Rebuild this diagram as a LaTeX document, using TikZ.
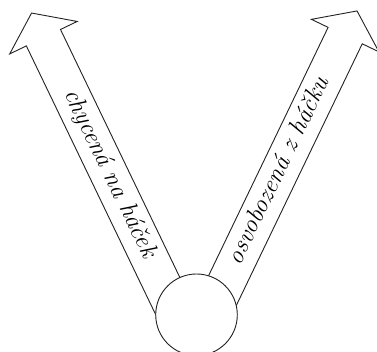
\documentclass[tikz,border=0pt]{standalone}
\usepackage{xcolor}
\usepackage{tikz}
\usetikzlibrary{shapes.arrows, calc, backgrounds}
\definecolor{outline}{HTML}{222222}

\begin{document}
\begin{tikzpicture}[
  x=1pt, y=1pt,
  hook/.style={circle, draw=outline, fill=white, line width=0.9pt,
               minimum size=81.6pt, inner sep=0pt},
  bigarrow/.style={single arrow, draw=outline, fill=white, line width=0.9pt,
                   minimum height=343pt, minimum width=0pt,
                   single arrow head extend=18.5pt, single arrow tip angle=107.7,
                   inner xsep=0pt, inner ysep=8pt, text height=16pt, text depth=5pt,
                   font=\fontsize{25}{30}\selectfont\itshape}
]
\useasboundingbox (0,0) rectangle (377,352);

\node[hook] (ring) at (196.5,37.2) {};

\begin{scope}[on background layer]
\node[bigarrow, rotate=-64.3, shape border rotate=180, anchor=tail]
  (caught) at ($(ring.center)+(-16,-7.7)$) {chycená na háček};
\node[bigarrow, rotate=64.3, anchor=tail]
  (freed) at ($(ring.center)+(11.6,-5.6)$) {osvobozená z háčku};
\end{scope}

\end{tikzpicture}
\end{document}
